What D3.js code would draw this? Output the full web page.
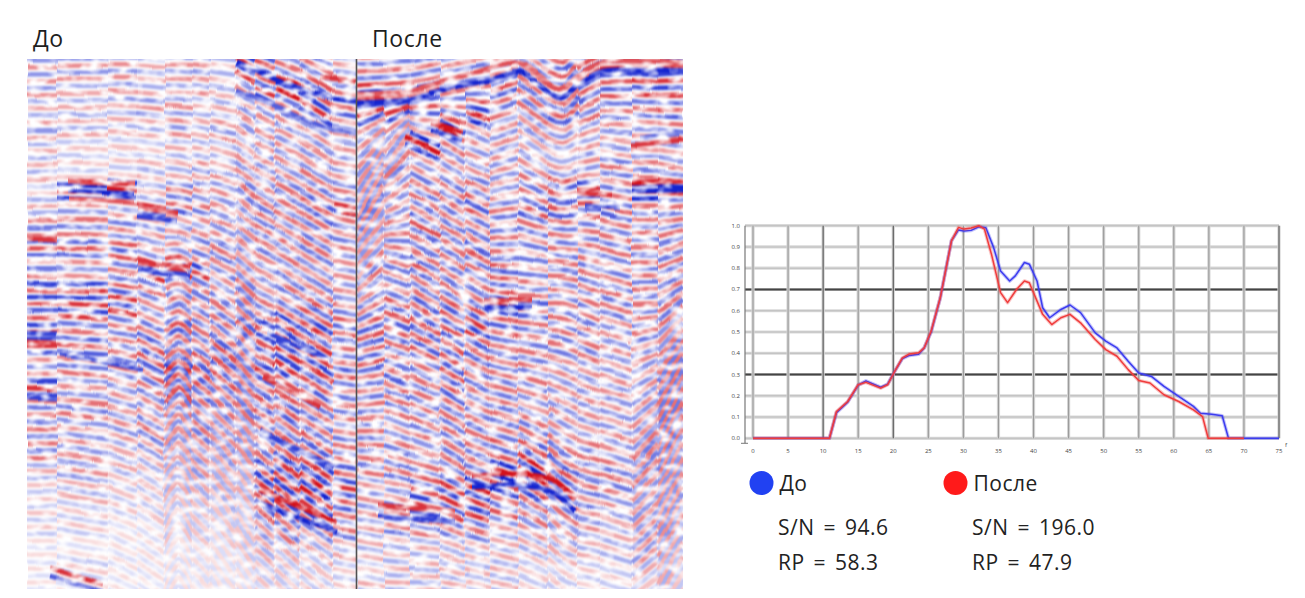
<!DOCTYPE html>
<html>
<head>
<meta charset="utf-8">
<script src="https://cdn.jsdelivr.net/npm/d3@7"></script>
<style>
  body { margin: 0; background: #fff; }
  svg { display: block; font-family: "Open Sans", sans-serif; }
</style>
</head>
<body>
<div id="wrapper"></div>
<script>
// ---- seismic section: fault blocks (trace range, guide horizons in samples, amplitude per 20 samples)
const sectionBlocks = [
  { x0: 0,   x1: 30,  guides: [[-40,-40],[-9,-9],[541,541],[600,600]], amp: "554544346768788586664333222" },
  { x0: 30,  x1: 81,  guides: [[-40,-40],[-19,-19],[241,243],[541,553],[600,610]], amp: "544433956758867656555433232" },
  { x0: 81,  x1: 110, guides: [[-40,-40],[-19,-19],[241,246],[541,556],[600,615]], amp: "554433956767866655544332222" },
  { x0: 110, x1: 138, guides: [[-40,-40],[-19,-17],[141,146],[291,306],[541,561],[600,620]], amp: "445434485586567765654332222" },
  { x0: 138, x1: 165, guides: [[-40,-40,-40],[-19,-19,-19],[161,163,167],[341,326,341],[541,516,541],[600,580,600]], amp: "545544675586676876554433222" },
  { x0: 165, x1: 183, guides: [[-40,-40],[-19,-18],[161,167],[331,346],[521,541],[600,620]], amp: "554445565686666776655433222" },
  { x0: 183, x1: 209, guides: [[-40,-40],[-19,-17],[141,151],[271,291],[541,581],[600,640]], amp: "444544555665667766554433222" },
  { x0: 209, x1: 228, guides: [[-40,-40],[-19,-9],[141,156],[271,291],[541,571],[600,630]], amp: "855545655656676666554433322" },
  { x0: 228, x1: 248, guides: [[-40,-40],[-9,-1],[141,153],[271,281],[541,561],[600,620]], amp: "785555566655687877668875433" },
  { x0: 248, x1: 273, guides: [[-40,-40],[-1,9],[141,156],[271,286],[541,566],[600,625]], amp: "696555665656688877678886433" },
  { x0: 273, x1: 306, guides: [[-40,-40],[9,29],[156,176],[286,306],[541,566],[600,625]], amp: "678555676656788876678986433" },
  { x0: 306, x1: 330, guides: [[-40,-40],[29,33],[176,181],[306,309],[541,546],[600,605]], amp: "567555686655676766567876433" },
  { x0: 330, x1: 357, guides: [[-19,-19],[44,42],[156,106],[271,261],[421,426],[541,546],[600,605]], amp: "688555565565677766666555434" },
  { x0: 357, x1: 383, guides: [[-19,-21],[42,40],[106,71],[201,211],[361,371],[541,541],[600,600]], amp: "678556556666776676566566444" },
  { x0: 383, x1: 413, guides: [[-21,-25],[40,33],[76,91],[241,259],[391,401],[541,541],[600,600]], amp: "677595667676777666656786444" },
  { x0: 413, x1: 438, guides: [[-25,-29],[33,26],[64,79],[241,256],[391,406],[541,546],[600,605]], amp: "666965666666777776666886444" },
  { x0: 438, x1: 463, guides: [[-29,-32],[26,21],[56,66],[241,256],[401,411],[541,546],[600,605]], amp: "668555676766787666666986444" },
  { x0: 463, x1: 491, guides: [[-32,-37],[21,13],[91,81],[241,246],[411,421],[541,546],[600,605]], amp: "676555566677876666679975444" },
  { x0: 491, x1: 521, guides: [[-37,-19],[13,36],[81,101],[241,241],[411,431],[541,551],[600,610]], amp: "666545676666766665679865433" },
  { x0: 521, x1: 551, guides: [[-19,-14,-24],[36,41,26],[101,106,101],[241,241,246],[431,446,456],[541,551,556],[600,610,615]], amp: "767545776666666555567765433" },
  { x0: 551, x1: 573, guides: [[-24,-34],[26,13],[101,96],[241,251],[456,461],[541,546],[600,605]], amp: "776555876666666555566665433" },
  { x0: 573, x1: 605, guides: [[-34,-34],[13,11],[96,101],[241,251],[461,471],[541,551],[600,610]], amp: "876556676666655555556654433" },
  { x0: 605, x1: 631, guides: [[-34,-34],[11,13],[101,101],[241,241],[411,381],[541,521],[600,590]], amp: "886556966666665555566555543" },
  { x0: 631, x1: 656, guides: [[-34,-34],[13,11],[101,106],[241,226],[381,331],[541,501],[600,580]], amp: "887656966666656666665555443" }
]

// strongest reflectors picked out of the section
const strongReflectors = [
  { pol: "B", amp: 9, pts: [[330,44],[353,43],[378,41],[403,34],[433,27],[463,21],[493,13],[513,26],[533,39],[551,26],[573,13],[603,11],[656,13]] },
  { pol: "R", amp: 7, pts: [[330,35],[378,32],[433,18],[493,4],[513,17],[533,30],[551,17],[573,4],[603,2],[656,4]] },
  { pol: "B", amp: 9, pts: [[210,3],[233,13],[263,26],[303,39],[329,41]] },
  { pol: "B", amp: 7, pts: [[210,31],[263,53],[303,71],[329,74]] },
  { pol: "R", amp: 8, pts: [[293,19],[329,23]] },
  { pol: "R", amp: 8, pts: [[41,122],[108,124]] },
  { pol: "B", amp: 9, pts: [[41,131],[108,134]] },
  { pol: "R", amp: 7, pts: [[41,140],[108,142]] },
  { pol: "R", amp: 8, pts: [[111,149],[150,154]] },
  { pol: "B", amp: 8, pts: [[111,157],[150,162]] },
  { pol: "R", amp: 8, pts: [[0,179],[30,180]] },
  { pol: "B", amp: 8, pts: [[0,224],[30,225]] },
  { pol: "B", amp: 8, pts: [[0,274],[30,275]] },
  { pol: "R", amp: 8, pts: [[0,283],[30,284]] },
  { pol: "R", amp: 8, pts: [[0,329],[30,330]] },
  { pol: "B", amp: 8, pts: [[0,339],[30,340]] },
  { pol: "B", amp: 8, pts: [[33,294],[116,311]] },
  { pol: "R", amp: 8, pts: [[111,204],[163,209]] },
  { pol: "B", amp: 8, pts: [[111,212],[163,217]] },
  { pol: "R", amp: 8, pts: [[23,509],[76,525]] },
  { pol: "B", amp: 7, pts: [[23,517],[76,533]] },
  { pol: "B", amp: 8, pts: [[240,274],[303,301]] },
  { pol: "R", amp: 8, pts: [[236,318],[293,348]] },
  { pol: "B", amp: 8, pts: [[233,371],[306,408]] },
  { pol: "R", amp: 9, pts: [[233,431],[310,464]] },
  { pol: "B", amp: 9, pts: [[233,444],[310,474]] },
  { pol: "R", amp: 9, pts: [[378,79],[401,87]] },
  { pol: "B", amp: 9, pts: [[378,86],[401,94]] },
  { pol: "R", amp: 9, pts: [[405,63],[435,73]] },
  { pol: "B", amp: 9, pts: [[405,71],[435,81]] },
  { pol: "R", amp: 9, pts: [[440,54],[458,61]] },
  { pol: "B", amp: 9, pts: [[440,61],[458,68]] },
  { pol: "R", amp: 9, pts: [[605,124],[656,122]] },
  { pol: "B", amp: 9, pts: [[605,132],[656,131]] },
  { pol: "B", amp: 7, pts: [[613,79],[656,74]] },
  { pol: "R", amp: 8, pts: [[605,86],[656,81]] },
  { pol: "R", amp: 8, pts: [[551,134],[585,136]] },
  { pol: "B", amp: 8, pts: [[558,147],[593,149]] },
  { pol: "R", amp: 9, pts: [[445,416],[493,415],[525,421],[548,441]] },
  { pol: "B", amp: 9, pts: [[445,428],[493,427],[525,433],[548,453]] },
  { pol: "R", amp: 8, pts: [[351,446],[428,453]] },
  { pol: "B", amp: 8, pts: [[351,456],[428,463]] },
  { pol: "R", amp: 8, pts: [[458,241],[505,242]] },
  { pol: "B", amp: 9, pts: [[458,248],[505,250]] },
  { pol: "R", amp: 8, pts: [[313,153],[329,156]] }
]

const sectionTitles = ["До", "После"]
const splitTrace = 329.5

// ---- amplitude spectra
const spectrumBefore = [[0,0],[10.9,0],[11.9,0.12],[13.5,0.17],[15.0,0.25],[16.1,0.27],[18.2,0.24],[19.2,0.255],[20.2,0.315],[21.3,0.375],[22.3,0.39],[23.6,0.395],[24.4,0.425],[25.4,0.5],[26.7,0.66],[28.3,0.93],[29.3,0.98],[30.1,0.975],[31.1,0.978],[32.2,0.995],[33.2,0.99],[34.3,0.898],[35.3,0.787],[36.6,0.74],[37.4,0.764],[38.7,0.827],[39.4,0.819],[40.5,0.74],[41.3,0.614],[42.3,0.567],[43.9,0.606],[45.2,0.627],[46.7,0.591],[48.8,0.496],[50.3,0.457],[51.9,0.425],[53.5,0.362],[55.0,0.307],[56.8,0.291],[58.6,0.244],[60.7,0.197],[62.8,0.15],[63.8,0.118],[65.4,0.113],[66.9,0.106],[67.8,0],[75,0]]
const spectrumAfter = [[0,0],[10.9,0],[11.9,0.126],[13.5,0.173],[15.0,0.252],[16.1,0.263],[18.2,0.236],[19.2,0.252],[20.2,0.315],[21.3,0.378],[22.3,0.397],[23.6,0.402],[24.4,0.425],[25.4,0.504],[26.7,0.661],[28.3,0.929],[29.3,0.992],[30.1,0.984],[31.1,0.989],[32.2,1.0],[33.0,0.984],[34.0,0.866],[35.3,0.685],[36.3,0.638],[37.6,0.701],[38.7,0.74],[39.4,0.732],[41.3,0.583],[42.6,0.535],[43.9,0.567],[45.2,0.583],[46.7,0.543],[48.8,0.465],[50.3,0.417],[51.9,0.386],[53.5,0.323],[55.0,0.272],[56.6,0.26],[58.6,0.205],[60.7,0.173],[62.8,0.134],[64.1,0.102],[64.9,0],[70,0]]
const freqTicks = d3.range(0, 76, 5)
const ampTicks = d3.range(0, 11).map(d => d / 10)
const darkAmpLines = [0.3, 0.7]
const darkFreqLines = [10, 20, 75]

const legendItems = [
  { name: "До", color: "#2141f2", sn: "94.6", rp: "58.3" },
  { name: "После", color: "#ff1a1a", sn: "196.0", rp: "47.9" }
]

const svg = d3.select("#wrapper").append("svg")
  .attr("width", 1305)
  .attr("height", 598)

// ---------- seismic section
const img = { left: 27, right: 683, top: 59, bottom: 589 }
const xTrace = d3.scaleLinear().domain([0, 656]).range([img.left, img.right])
const yTime = d3.scaleLinear().domain([0, 530]).range([img.top, img.bottom])

const defs = svg.append("defs")
defs.append("clipPath").attr("id", "sect-clip")
  .append("rect")
  .attr("x", img.left).attr("y", img.top)
  .attr("width", img.right - img.left).attr("height", img.bottom - img.top)

// texture: gentle wobble, washed-out patches, soft edges
const rough = defs.append("filter").attr("id", "rough")
  .attr("x", "-2%").attr("y", "-2%").attr("width", "104%").attr("height", "104%")
  .attr("color-interpolation-filters", "sRGB")
rough.append("feTurbulence").attr("type", "fractalNoise")
  .attr("baseFrequency", "0.02 0.04").attr("numOctaves", 1).attr("seed", 4).attr("result", "n")
rough.append("feDisplacementMap").attr("in", "SourceGraphic").attr("in2", "n")
  .attr("scale", 4).attr("xChannelSelector", "R").attr("yChannelSelector", "G").attr("result", "d")
rough.append("feTurbulence").attr("type", "fractalNoise")
  .attr("baseFrequency", "0.07 0.14").attr("numOctaves", 2).attr("seed", 11).attr("result", "s")
rough.append("feColorMatrix").attr("in", "s").attr("type", "matrix")
  .attr("values", "0 0 0 0 1  0 0 0 0 1  0 0 0 0 1  2.8 0 0 0 -1.15").attr("result", "w")
rough.append("feComposite").attr("in", "w").attr("in2", "d").attr("operator", "atop").attr("result", "m")
rough.append("feGaussianBlur").attr("in", "m").attr("stdDeviation", "0.6 0.9")

const redFull = "#d3121c"
const blueFull = "#1323cf"
const ampColor = (pol, a) => {
  const t = Math.pow(Math.min(a, 9) / 9, 1.25)
  return d3.interpolateRgb("#ffffff", pol === "R" ? redFull : blueFull)(t)
}

const stripeLine = d3.line()
  .x(d => xTrace(d[0]))
  .y(d => yTime(d[1]))
  .curve(d3.curveCatmullRom)

const stripeGap = 7
const blockStripes = b => {
  const n = b.guides[0].length
  const xs = d3.range(n).map(i => b.x0 + (b.x1 - b.x0) * i / (n - 1))
  const out = []
  let k = 0
  for (let g = 0; g < b.guides.length - 1; g++) {
    const top = b.guides[g], bot = b.guides[g + 1]
    const gap = d3.mean(top.map((t, i) => bot[i] - t))
    const m = Math.max(1, Math.round(gap / stripeGap))
    for (let j = 0; j < m; j++) {
      const f = (j + 0.5) / m
      const ys = top.map((t, i) => t + (bot[i] - t) * f)
      const mid = d3.mean(ys)
      const idx = Math.max(0, Math.min(b.amp.length - 1, Math.floor(mid / 20)))
      out.push({ pts: xs.map((x, i) => [x, ys[i]]), pol: k % 2 ? "B" : "R", a: +b.amp[idx] })
      k++
    }
  }
  return out
}

const section = svg.append("g").attr("clip-path", "url(#sect-clip)")
section.append("rect")
  .attr("x", img.left).attr("y", img.top)
  .attr("width", img.right - img.left).attr("height", img.bottom - img.top)
  .attr("fill", "#ffffff")

const textured = section.append("g").attr("filter", "url(#rough)")
textured.append("rect")
  .attr("x", img.left - 10).attr("y", img.top - 10)
  .attr("width", img.right - img.left + 20).attr("height", img.bottom - img.top + 20)
  .attr("fill", "#ffffff")

sectionBlocks.forEach(b => {
  textured.append("g").selectAll("path")
    .data(blockStripes(b))
    .join("path")
    .attr("d", d => stripeLine(d.pts))
    .attr("fill", "none")
    .attr("stroke", d => ampColor(d.pol, d.a))
    .attr("stroke-width", 4.6)
})

textured.append("g").selectAll("path")
  .data(strongReflectors)
  .join("path")
  .attr("d", d => stripeLine(d.pts))
  .attr("fill", "none")
  .attr("stroke", d => ampColor(d.pol, d.amp))
  .attr("stroke-width", 4.8)

section.append("line")
  .attr("x1", xTrace(splitTrace)).attr("x2", xTrace(splitTrace))
  .attr("y1", img.top).attr("y2", img.bottom)
  .attr("stroke", "#505050")
  .attr("stroke-width", 1.6)

svg.selectAll(".title")
  .data(sectionTitles)
  .join("text")
  .attr("class", "title")
  .attr("x", (d, i) => i === 0 ? 33 : 372)
  .attr("y", 47)
  .attr("font-size", 23)
  .attr("letter-spacing", 0.6)
  .attr("fill", "#1e1e1e")
  .text(d => d)

// ---------- spectrum chart
const xF = d3.scaleLinear().domain([0, 75]).range([753, 1279])
const yA = d3.scaleLinear().domain([0, 1]).range([438.3, 225.7])

const chart = svg.append("g")

// horizontal grid
chart.append("g").selectAll("line")
  .data(ampTicks)
  .join("line")
  .attr("x1", 745).attr("x2", xF(75))
  .attr("y1", d => yA(d)).attr("y2", d => yA(d))
  .attr("stroke", d => darkAmpLines.includes(d) ? "#8a8a8a" : "#d9d9d9")
  .attr("stroke-width", 3.2)
chart.append("g").selectAll("line")
  .data(ampTicks)
  .join("line")
  .attr("x1", 745).attr("x2", xF(75))
  .attr("y1", d => yA(d)).attr("y2", d => yA(d))
  .attr("stroke", d => darkAmpLines.includes(d) ? "#444" : "#bdbdbd")
  .attr("stroke-width", 1.1)

// vertical grid
chart.append("g").selectAll("line")
  .data(freqTicks)
  .join("line")
  .attr("x1", d => xF(d)).attr("x2", d => xF(d))
  .attr("y1", yA(1)).attr("y2", yA(0))
  .attr("stroke", "#d4d4d4")
  .attr("stroke-width", 3.2)
chart.append("g").selectAll("line")
  .data(freqTicks)
  .join("line")
  .attr("x1", d => xF(d)).attr("x2", d => xF(d))
  .attr("y1", yA(1)).attr("y2", yA(0))
  .attr("stroke", d => darkFreqLines.includes(d) ? "#555" : "#9a9a9a")
  .attr("stroke-width", 1.1)

// axes
chart.append("line")
  .attr("x1", 745).attr("x2", 745)
  .attr("y1", yA(1)).attr("y2", yA(0) + 5)
  .attr("stroke", "#777").attr("stroke-width", 1.2)
chart.append("line")
  .attr("x1", 741).attr("x2", 748)
  .attr("y1", yA(0) + 5).attr("y2", yA(0) + 5)
  .attr("stroke", "#777").attr("stroke-width", 1)

chart.append("g").selectAll("text")
  .data(ampTicks)
  .join("text")
  .attr("x", 740)
  .attr("y", d => yA(d) + 2)
  .attr("text-anchor", "end")
  .attr("font-size", 6)
  .attr("fill", "#444")
  .text(d => d.toFixed(1))

chart.append("g").selectAll("text")
  .data(freqTicks)
  .join("text")
  .attr("x", d => xF(d))
  .attr("y", 453)
  .attr("text-anchor", "middle")
  .attr("font-size", 6)
  .attr("fill", "#444")
  .text(d => d)

chart.append("text")
  .attr("x", xF(75) + 6).attr("y", 447)
  .attr("font-size", 6).attr("fill", "#444")
  .text("f")

// spectra
const specLine = d3.line()
  .x(d => xF(d[0]))
  .y(d => yA(d[1]))

const drawSpectrum = (data, color) => {
  chart.append("path").datum(data)
    .attr("d", specLine)
    .attr("fill", "none")
    .attr("stroke", color)
    .attr("stroke-opacity", 0.3)
    .attr("stroke-width", 3.6)
    .attr("stroke-linejoin", "round")
  chart.append("path").datum(data)
    .attr("d", specLine)
    .attr("fill", "none")
    .attr("stroke", color)
    .attr("stroke-width", 1.5)
    .attr("stroke-linejoin", "round")
}
drawSpectrum(spectrumBefore, "#3c3cf0")
drawSpectrum(spectrumAfter, "#f03c3c")

// legend
const legend = svg.append("g")
const items = legend.selectAll("g")
  .data(legendItems)
  .join("g")
  .attr("transform", (d, i) => `translate(${i === 0 ? 761.5 : 955.5}, 483)`)

items.append("circle")
  .attr("r", 12)
  .attr("fill", d => d.color)
items.append("text")
  .attr("x", 18).attr("y", 7.5)
  .attr("font-size", 21)
  .attr("letter-spacing", 0.5)
  .attr("fill", "#222")
  .text(d => d.name)
items.append("text")
  .attr("x", 16.5).attr("y", 52)
  .attr("font-size", 21)
  .attr("letter-spacing", 0.5)
  .attr("word-spacing", 3)
  .attr("fill", "#222")
  .text(d => `S/N = ${d.sn}`)
items.append("text")
  .attr("x", 16.5).attr("y", 87)
  .attr("font-size", 21)
  .attr("letter-spacing", 0.5)
  .attr("word-spacing", 3)
  .attr("fill", "#222")
  .text(d => `RP = ${d.rp}`)
</script>
</body>
</html>
